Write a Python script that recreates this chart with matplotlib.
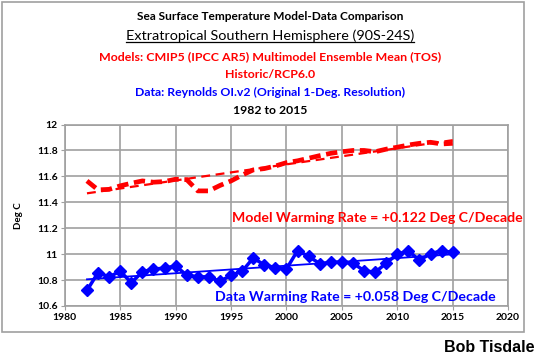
import numpy as np
import matplotlib
matplotlib.use("Agg")
from matplotlib import pyplot as plt
from matplotlib.patches import Rectangle

plt.rcParams['font.family'] = ['Lato', 'DejaVu Sans']

years = list(range(1982, 2016))
model = [11.565, 11.496, 11.50, 11.527, 11.547, 11.565, 11.555, 11.56, 11.578, 11.575,
         11.488, 11.488, 11.53, 11.565, 11.61, 11.65, 11.66, 11.68, 11.706, 11.72,
         11.74, 11.76, 11.778, 11.79, 11.80, 11.80, 11.79, 11.81, 11.825, 11.842,
         11.855, 11.863, 11.85, 11.855]
data = [10.72, 10.858, 10.825, 10.868, 10.78, 10.863, 10.886, 10.891, 10.91, 10.837,
        10.825, 10.825, 10.79, 10.837, 10.868, 10.97, 10.917, 10.896, 10.886, 11.027,
        10.983, 10.927, 10.937, 10.94, 10.93, 10.873, 10.86, 10.93, 11.0, 11.025,
        10.953, 11.004, 11.025, 11.014]

x = np.array(years)
pm = np.polyfit(x, model, 1)
pd_ = np.polyfit(x, data, 1)

fig = plt.figure(figsize=(5.4, 3.62), dpi=100)
ax = fig.add_axes([0.120, 0.1547, 0.821, 0.5013])

ax.plot(x, model, color='red', lw=3.4, ls=(0, (2.4, 1.2)), zorder=3)
ax.plot(x, np.polyval(pm, x), color='red', lw=1.6, ls=(0, (4, 2.5)), zorder=3)
ax.plot(x, data, color='blue', lw=2.5, marker='D', ms=6, zorder=3)
ax.plot(x, np.polyval(pd_, x), color='blue', lw=1.3, zorder=3)

ax.set_xlim(1980, 2020)
ax.set_ylim(10.6, 12)
ax.set_xticks(range(1980, 2021, 5))
ax.set_yticks(np.arange(10.6, 12.01, 0.2))
ax.set_yticklabels(['10.6', '10.8', '11', '11.2', '11.4', '11.6', '11.8', '12'])
ax.grid(True, color='#a0a0a0', lw=1.2)
ax.set_axisbelow(True)
for s in ax.spines.values():
    s.set_color('#a0a0a0')
    s.set_linewidth(1.2)
ax.tick_params(length=3, color='#a0a0a0', labelsize=7.5, pad=2)
for lab in ax.get_xticklabels() + ax.get_yticklabels():
    lab.set_fontweight('bold')
ax.set_ylabel('Deg C', fontsize=7, fontweight='bold', labelpad=10)

ax.text(1.032, 0.484, 'Model Warming Rate = +0.122 Deg C/Decade', transform=ax.transAxes,
        ha='right', va='center', color='red', fontsize=10.2, fontweight='bold')
ax.text(0.973, 0.05, 'Data Warming Rate = +0.058 Deg C/Decade', transform=ax.transAxes,
        ha='right', va='center', color='blue', fontsize=10.2, fontweight='bold')

fig.text(0.5, 1 - 17/362, 'Sea Surface Temperature Model-Data Comparison',
         ha='center', va='center', fontsize=8.6, fontweight='bold')
t = fig.text(0.5, 1 - 36/362, 'Extratropical Southern Hemisphere (90S-24S)',
             ha='center', va='center', fontsize=10.4)
fig.text(0.5, 1 - 57/362, 'Models: CMIP5 (IPCC AR5) Multimodel Ensemble Mean (TOS)',
         ha='center', va='center', fontsize=8.9, fontweight='bold', color='red')
fig.text(0.5, 1 - 74/362, 'Historic/RCP6.0',
         ha='center', va='center', fontsize=8.9, fontweight='bold', color='red')
fig.text(0.5, 1 - 92/362, 'Data: Reynolds OI.v2 (Original 1-Deg. Resolution)',
         ha='center', va='center', fontsize=8.8, fontweight='bold', color='blue')
fig.text(0.5, 1 - 110/362, '1982 to 2015',
         ha='center', va='center', fontsize=8.8, fontweight='bold')
fig.text(0.99, 1 - 348/362, 'Bob Tisdale', ha='right', va='center',
         fontsize=11.5, fontweight='bold', family=['Liberation Sans', 'DejaVu Sans'])

fig.patches.append(Rectangle((2/540, 1 - 332/362), 522/540, 330/362,
                             transform=fig.transFigure, fill=False,
                             edgecolor='#a0a0a0', lw=1.2))

# underline for the subtitle
fig.canvas.draw()
bb = t.get_window_extent().transformed(fig.transFigure.inverted())
fig.add_artist(plt.Line2D([bb.x0, bb.x1], [bb.y0 + 0.002, bb.y0 + 0.002],
                          transform=fig.transFigure, color='black', lw=0.9))

fig.savefig('out.png', dpi=100)
